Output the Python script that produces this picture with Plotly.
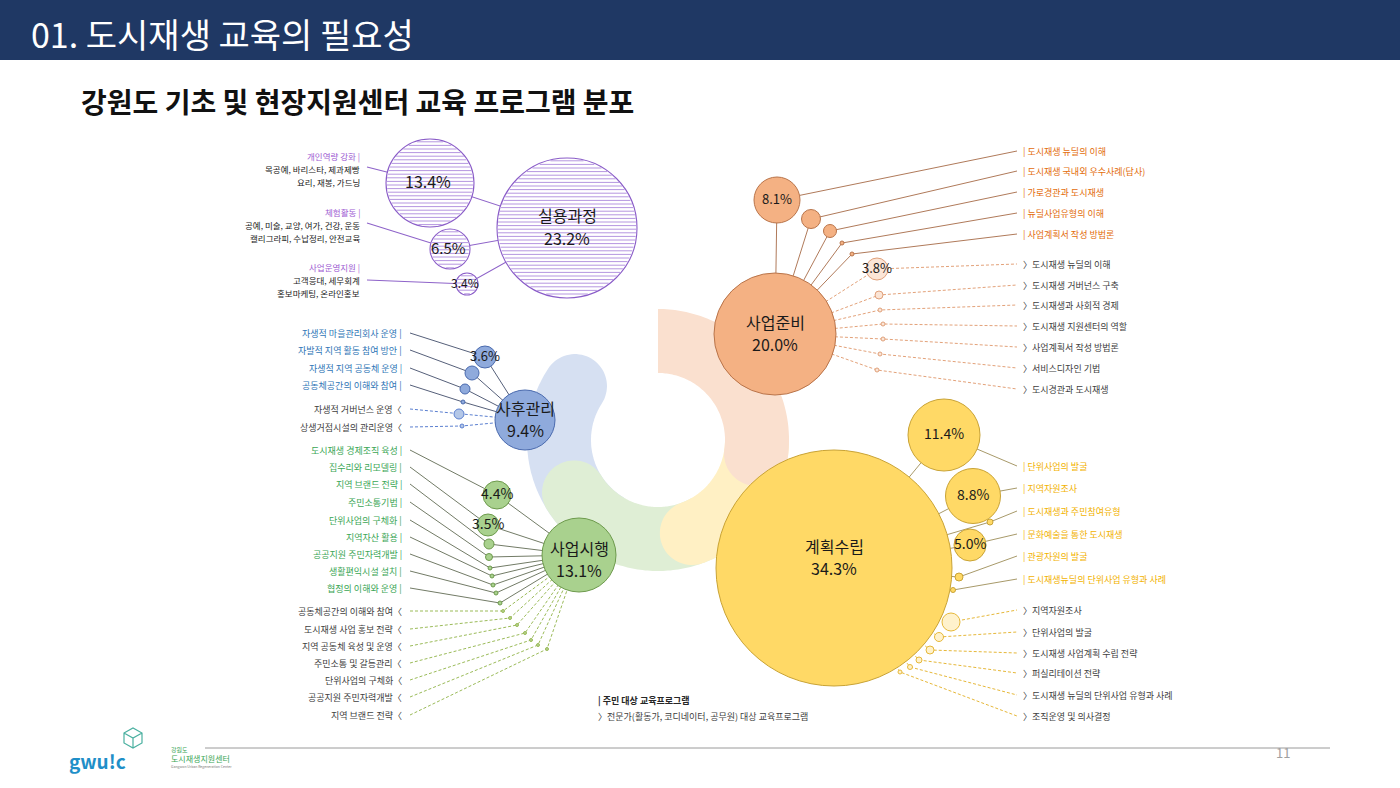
import numpy as np
import plotly.graph_objects as go

W, H = 1400, 788
FONT = "Noto Sans CJK KR"

# ---------------- data ----------------
title = "01. 도시재생 교육의 필요성"
subtitle = "강원도 기초 및 현장지원센터 교육 프로그램 분포"
page_no = "11"

# practical course (실용과정)
practical_name = "실용과정"
practical_pct = 23.2
practical_topics = ["개인역량 강화", "체험활동", "사업운영지원"]
practical_details = [["목공예, 바리스타, 제과제빵", "요리, 재봉, 가드닝"],
                     ["공예, 미술, 교양, 여가, 건강, 운동", "캘리그라피, 수납정리, 안전교육"],
                     ["고객응대, 세무회계", "홍보마케팅, 온라인홍보"]]
practical_pcts = [13.4, 6.5, 3.4]

# 사업준비
prep_name, prep_pct = "사업준비", 20.0
prep_resident = ["도시재생 뉴딜의 이해", "도시재생 국내외 우수사례(답사)", "가로경관과 도시재생",
                 "뉴딜사업유형의 이해", "사업계획서 작성 방법론"]
prep_resident_pcts = [8.1, None, None, None, None]
prep_expert = ["도시재생 뉴딜의 이해", "도시재생 거버넌스 구축", "도시재생과 사회적 경제",
               "도시재생 지원센터의 역할", "사업계획서 작성 방법론", "서비스디자인 기법", "도시경관과 도시재생"]
prep_expert_pcts = [3.8, None, None, None, None, None, None]

# 계획수립
plan_name, plan_pct = "계획수립", 34.3
plan_resident = ["단위사업의 발굴", "지역자원조사", "도시재생과 주민참여유형", "문화예술을 통한 도시재생",
                 "관광자원의 발굴", "도시재생뉴딜의 단위사업 유형과 사례"]
plan_resident_pcts = [11.4, 8.8, None, 5.0, None, None]
plan_expert = ["지역자원조사", "단위사업의 발굴", "도시재생 사업계획 수립 전략", "퍼실리테이션 전략",
               "도시재생 뉴딜의 단위사업 유형과 사례", "조직운영 및 의사결정"]
plan_expert_pcts = [None] * 6

# 사업시행
exec_name, exec_pct = "사업시행", 13.1
exec_resident = ["도시재생 경제조직 육성", "집수리와 리모델링", "지역 브랜드 전략", "주민소통기법",
                 "단위사업의 구체화", "지역자산 활용", "공공지원 주민자력개발", "생활편익시설 설치",
                 "협정의 이해와 운영"]
exec_resident_pcts = [4.4, 3.5, None, None, None, None, None, None, None]
exec_expert = ["공동체공간의 이해와 참여", "도시재생 사업 홍보 전략", "지역 공동체 육성 및 운영",
               "주민소통 및 갈등관리", "단위사업의 구체화", "공공지원 주민자력개발", "지역 브랜드 전략"]
exec_expert_pcts = [None] * 7

# 사후관리
post_name, post_pct = "사후관리", 9.4
post_resident = ["자생적 마을관리회사 운영", "자발적 지역 활동 참여 방안", "자생적 지역 공동체 운영",
                 "공동체공간의 이해와 참여"]
post_resident_pcts = [3.6, None, None, None]
post_expert = ["자생적 거버넌스 운영", "상생거점시설의 관리운영"]
post_expert_pcts = [None, None]

legend_resident = "| 주민 대상 교육프로그램"
legend_expert = "〉전문가(활동가, 코디네이터, 공무원) 대상 교육프로그램"

# ---------------- layout (pixel positions / sizes) ----------------
practical_main_pos = (567, 228, 140)
practical_bub = [(430, 183, 88), (450, 249, 40), (467, 284, 22)]
practical_label_y = [156, 212, 267]
practical_anchor = [(367, 167), (367, 223), (367, 280)]

prep_main_pos = (775, 334, 122)
prep_res_bub = [(777, 200, 46), (811, 219, 19), (830, 231, 13), (842, 243, 4), (852, 254, 4)]
prep_res_y = [151, 171, 192, 213, 234]
prep_exp_bub = [(877, 269, 22), (879, 295, 8), (880, 310, 4), (883, 324, 4), (883, 339, 4), (880, 354, 4), (877, 370, 4)]
prep_exp_y = [264, 285, 305, 326, 347, 368, 389]

plan_main_pos = (834, 568, 236)
plan_res_bub = [(944, 435, 72), (973, 496, 55), (990, 522, 6), (970, 545, 32), (959, 577, 8), (953, 590, 5)]
plan_res_y = [466, 488, 511, 534, 556, 579]
plan_exp_bub = [(951, 622, 18), (939, 637, 9), (930, 650, 8), (919, 660, 6), (910, 667, 5), (900, 672, 4)]
plan_exp_y = [610, 632, 653, 673, 695, 716]

exec_main_pos = (579, 555, 74)
exec_res_bub = [(497, 495, 28), (488, 525, 22), (489, 544, 10), (489, 557, 7), (490, 568, 4),
                (492, 576, 4), (493, 585, 4), (496, 593, 4), (500, 603, 4)]
exec_res_y = [450, 467, 484, 502, 520, 537, 554, 571, 588]
exec_exp_bub = [(503, 611, 3), (510, 618, 3), (517, 625, 3), (525, 633, 3), (531, 640, 3), (538, 645, 3), (547, 649, 3)]
exec_exp_y = [611, 629, 646, 663, 680, 697, 715]

post_main_pos = (525, 420, 60)
post_res_bub = [(485, 357, 22), (472, 373, 14), (465, 389, 10), (463, 402, 4)]
post_res_y = [333, 350, 368, 385]
post_exp_bub = [(459, 414, 10), (462, 426, 4)]
post_exp_y = [409, 427]

# label line offsets (name line, percent line) relative to main bubble centre
main_label_dy = {"practical": (-13, 10), "prep": (-12, 10), "plan": (-22, 0), "exec": (-7, 15), "post": (-12, 10)}

LEFT_TEXT_X, LEFT_LINE_X = 403, 410
RIGHT_TEXT_X, RIGHT_LINE_X = 1022, 1017

# ---------------- figure ----------------
fig = go.Figure()
shapes, annotations = [], []


def blob_path(cx, cy, r_in, r_out, a_head, a_tail, n=80):
    t = (r_out - r_in) / 2
    rm = (r_in + r_out) / 2
    pts = []
    for a in np.linspace(a_tail, a_head, n):
        r = np.radians(a)
        pts.append((cx + r_out * np.cos(r), cy - r_out * np.sin(r)))
    ah = np.radians(a_head)
    u = np.array([np.cos(ah), -np.sin(ah)])
    d = np.array([np.sin(ah), np.cos(ah)])
    c = np.array([cx, cy]) + rm * u
    for phi in np.linspace(0, np.pi, 40):
        p = c + t * (np.cos(phi) * u + np.sin(phi) * d)
        pts.append((p[0], p[1]))
    for a in np.linspace(a_head, a_tail, n):
        r = np.radians(a)
        pts.append((cx + r_in * np.cos(r), cy - r_in * np.sin(r)))
    return "M " + " L ".join(f"{x:.1f},{y:.1f}" for x, y in pts) + " Z"


# header
shapes.append(dict(type="rect", xref="x", yref="y", x0=0, x1=W, y0=0, y1=60,
                   fillcolor="#1f3864", line=dict(width=0), layer="below"))
# swirl background
for (ah, at, col) in [(147, 240, "#d6e0f2"), (212, 300, "#dfeed5"), (290, 362, "#fff0c4"), (-8, 90, "#fae0cf")]:
    shapes.append(dict(type="path", xref="x", yref="y", path=blob_path(658, 440, 67, 131, ah, at),
                       fillcolor=col, line=dict(width=0), layer="below"))
# bottom rule
shapes.append(dict(type="line", xref="x", yref="y", x0=205, x1=1330, y0=748, y1=748,
                   line=dict(color="#9a9a9a", width=1)))


def add_lines(segs, color, dash="solid", width=1.0):
    xs, ys = [], []
    for seg in segs:
        for (x, y) in seg:
            xs.append(x)
            ys.append(y)
        xs.append(None)
        ys.append(None)
    fig.add_trace(go.Scatter(x=xs, y=ys, mode="lines", line=dict(color=color, width=width, dash=dash),
                             hoverinfo="skip", showlegend=False, cliponaxis=False))


def add_circles(bubs, fill, line, width=1.0):
    fig.add_trace(go.Scatter(x=[b[0] for b in bubs], y=[b[1] for b in bubs], mode="markers",
                             marker=dict(size=[b[2] for b in bubs], color=fill, opacity=1,
                                         line=dict(color=line, width=width)),
                             opacity=1, hoverinfo="skip", showlegend=False, cliponaxis=False))


def text(x, y, s, size=9, color="#404040", anchor="center", bold=False):
    annotations.append(dict(x=x, y=y, xref="x", yref="y", text=f"<b>{s}</b>" if bold else s,
                            showarrow=False, xanchor=anchor, yanchor="middle", borderpad=0,
                            font=dict(family=FONT, size=size, color=color)))


def fmt(p):
    return f"{p:.1f}%"


# ---- lines ----
pm = practical_main_pos
add_lines([[a, (b[0], b[1]), (pm[0], pm[1])] for a, b in zip(practical_anchor, practical_bub)], "#8e63c9", width=1.1)
post_m = post_main_pos
add_lines([[(LEFT_LINE_X, y), (b[0], b[1]), (post_m[0], post_m[1])] for y, b in zip(post_res_y, post_res_bub)], "#56607a")
add_lines([[(LEFT_LINE_X, y), (b[0], b[1]), (post_m[0], post_m[1])] for y, b in zip(post_exp_y, post_exp_bub)], "#5b7fd0", dash="3px,2px")
em = exec_main_pos
add_lines([[(LEFT_LINE_X, y), (b[0], b[1]), (em[0], em[1])] for y, b in zip(exec_res_y, exec_res_bub)], "#727b66")
add_lines([[(LEFT_LINE_X, y), (b[0], b[1]), (em[0], em[1])] for y, b in zip(exec_exp_y, exec_exp_bub)], "#9bbb59", dash="3px,2px")
prm = prep_main_pos
add_lines([[(prm[0], prm[1]), (b[0], b[1]), (RIGHT_LINE_X, y)] for y, b in zip(prep_res_y, prep_res_bub)], "#b07a5a")
add_lines([[(prm[0], prm[1]), (b[0], b[1]), (RIGHT_LINE_X, y)] for y, b in zip(prep_exp_y, prep_exp_bub)], "#e3a27a", dash="3px,2px")
plm = plan_main_pos
add_lines([[(plm[0], plm[1]), (b[0], b[1]), (RIGHT_LINE_X, y)] for y, b in zip(plan_res_y, plan_res_bub)], "#a89a6a")
add_lines([[(plm[0], plm[1]), (b[0], b[1]), (RIGHT_LINE_X, y)] for y, b in zip(plan_exp_y, plan_exp_bub)], "#e6b83a", dash="3px,2px")

# ---- circles ----
pur_all = practical_bub + [practical_main_pos]
add_circles(pur_all, "white", "#8a5cc8", 1.1)
sx, sy = [], []
for (cx, cy, dd) in pur_all:
    r = dd / 2 - 0.8
    for dy in np.arange(-r + 2, r, 3.6):
        hw = np.sqrt(max(r * r - dy * dy, 0))
        sx += [cx - hw, cx + hw, None]
        sy += [cy + dy, cy + dy, None]
fig.add_trace(go.Scatter(x=sx, y=sy, mode="lines", line=dict(color="#b596e0", width=1),
                         hoverinfo="skip", showlegend=False, cliponaxis=False))

add_circles(post_res_bub + [post_main_pos], "#8faadc", "#4a6aae")
add_circles(post_exp_bub, "#b4c7e7", "#5b7fd0")
add_circles(exec_res_bub + [exec_main_pos], "#a9d18e", "#6d9a4c")
add_circles(exec_exp_bub, "#b5d18e", "#9bbb59")
add_circles(prep_res_bub + [prep_main_pos], "#f4b183", "#b9744a")
add_circles(prep_exp_bub, "#fbe5d6", "#e0a07a")
add_circles(plan_res_bub + [plan_main_pos], "#ffd966", "#c9a335")
add_circles(plan_exp_bub, "#fff2cc", "#e6b83a")

# ---- texts ----
text(30, 33, title, size=34, color="white", anchor="left")
text(80, 101, subtitle, size=28, color="#111111", anchor="left", bold=True)

for key, pos, name, pct in [("practical", pm, practical_name, practical_pct),
                            ("prep", prm, prep_name, prep_pct),
                            ("plan", plm, plan_name, plan_pct),
                            ("exec", em, exec_name, exec_pct),
                            ("post", post_m, post_name, post_pct)]:
    d1, d2 = main_label_dy[key]
    text(pos[0], pos[1] + d1, name, size=16, color="#1a1a1a")
    text(pos[0], pos[1] + d2, fmt(pct), size=16, color="#1a1a1a")

sub_sizes_practical = [16, 15, 12]
for b, p, s in zip(practical_bub, practical_pcts, sub_sizes_practical):
    text(b[0] - 2, b[1] - 2, fmt(p), size=s, color="#1a1a1a")
for bubs, pcts, sz in [(prep_res_bub, prep_resident_pcts, 13), (prep_exp_bub, prep_expert_pcts, 13),
                       (plan_res_bub, plan_resident_pcts, 14), (exec_res_bub, exec_resident_pcts, 14),
                       (post_res_bub, post_resident_pcts, 13)]:
    for b, p in zip(bubs, pcts):
        if p is not None:
            text(b[0], b[1] - 2, fmt(p), size=sz, color="#1a1a1a")

for y, topic, det in zip(practical_label_y, practical_topics, practical_details):
    text(361, y, topic + " |", size=8.5, color="#9d5bd2", anchor="right")
    text(361, y + 13, det[0], size=8.5, color="#222222", anchor="right")
    text(361, y + 26, det[1], size=8.5, color="#222222", anchor="right")

for y, s in zip(post_res_y, post_resident):
    text(LEFT_TEXT_X, y, s + " |", size=9, color="#2e75b6", anchor="right")
for y, s in zip(post_exp_y, post_expert):
    text(LEFT_TEXT_X, y, s + "〈", size=9, color="#404040", anchor="right")
for y, s in zip(exec_res_y, exec_resident):
    text(LEFT_TEXT_X, y, s + " |", size=9, color="#3aa655", anchor="right")
for y, s in zip(exec_exp_y, exec_expert):
    text(LEFT_TEXT_X, y, s + "〈", size=9, color="#404040", anchor="right")

for y, s in zip(prep_res_y, prep_resident):
    text(RIGHT_TEXT_X, y, "| " + s, size=9, color="#e36c0a", anchor="left")
for y, s in zip(prep_exp_y, prep_expert):
    text(RIGHT_TEXT_X, y, "〉" + s, size=9, color="#404040", anchor="left")
for y, s in zip(plan_res_y, plan_resident):
    text(RIGHT_TEXT_X, y, "| " + s, size=9, color="#f2b200", anchor="left")
for y, s in zip(plan_exp_y, plan_expert):
    text(RIGHT_TEXT_X, y, "〉" + s, size=9, color="#404040", anchor="left")

text(597, 700, legend_resident, size=9, color="#262626", anchor="left", bold=True)
text(597, 716, legend_expert, size=9, color="#404040", anchor="left")

text(1283, 752, page_no, size=13, color="#a0a0a0")
text(68, 760, "<b>gwu!c</b>", size=19, color="#1f8fc8", anchor="left")
text(170, 749, "강원도", size=6, color="#3aa655", anchor="left")
text(170, 758, "도시재생지원센터", size=8, color="#3aa655", anchor="left")
text(170, 766, "Gangwon Urban Regeneration Center", size=3.5, color="#7a7a7a", anchor="left")
shapes.append(dict(type="path", xref="x", yref="y",
                   path="M 124,733 L 133,728 L 142,733 L 142,743 L 133,748 L 124,743 Z M 124,733 L 133,738 L 142,733 M 133,738 L 133,748",
                   line=dict(color="#4ab0a0", width=1.2)))

fig.update_layout(
    width=W, height=H, margin=dict(l=0, r=0, t=0, b=0),
    paper_bgcolor="white", plot_bgcolor="white",
    xaxis=dict(range=[0, W], visible=False, fixedrange=True),
    yaxis=dict(range=[H, 0], visible=False, fixedrange=True),
    shapes=shapes, annotations=annotations, showlegend=False,
)
fig.write_html("out.html")
